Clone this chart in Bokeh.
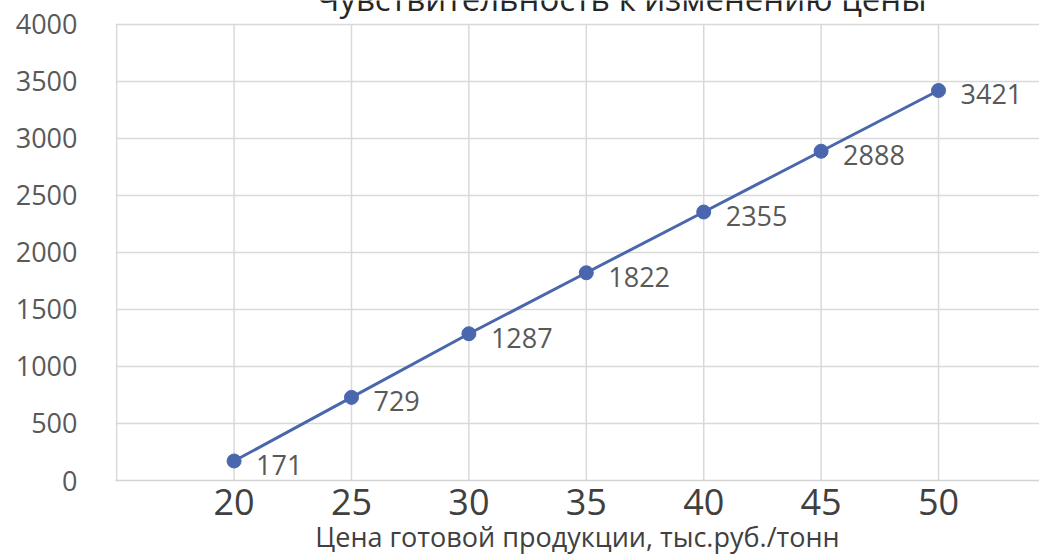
from bokeh.plotting import figure
from bokeh.models import ColumnDataSource, FixedTicker
from bokeh.core.properties import value
from bokeh.embed import file_html
from bokeh.resources import INLINE

prices = [20, 25, 30, 35, 40, 45, 50]
values = [171, 729, 1287, 1822, 2355, 2888, 3421]
y_ticks = [0, 500, 1000, 1500, 2000, 2500, 3000, 3500, 4000]
title_text = "Чувствительность к изменению цены"
x_title = "Цена готовой продукции, тыс.руб./тонн"

FONT = "Open Sans"
BLUE = "#4A66AC"
PX = 4000 / 457.0  # data units per pixel on the y axis
Y_TOP = 4000 + 24 * PX

src = ColumnDataSource(dict(x=prices, y=values, lbl=[str(v) for v in values]))

p = figure(width=1039, height=557, output_backend="svg", toolbar_location=None,
           x_range=(14.95, 54.3), y_range=(0, Y_TOP),
           min_border_left=115, min_border_top=0, min_border_bottom=76, min_border_right=0)
p.outline_line_color = None
p.background_fill_color = "white"
p.border_fill_color = "white"

p.xaxis.ticker = FixedTicker(ticks=prices)
p.yaxis.ticker = FixedTicker(ticks=y_ticks)
p.xgrid.ticker = FixedTicker(ticks=prices)
p.ygrid.ticker = FixedTicker(ticks=y_ticks)
p.xgrid.grid_line_color = None
p.ygrid.grid_line_color = "#d9d9d9"
p.ygrid.grid_line_width = 1.5

for ax in (p.xaxis, p.yaxis):
    ax.major_tick_line_color = None
    ax.minor_tick_line_color = None
    ax.major_label_text_font = FONT
p.xaxis.axis_line_color = "#d4d4d4"
p.xaxis.axis_line_width = 1.5
p.yaxis.axis_line_color = None

# vertical grid lines and left axis line only up to 4000
p.segment(x0=[15] + prices, y0=0, x1=[15] + prices, y1=4000,
          line_color="#d9d9d9", line_width=1.5)

p.yaxis.major_label_text_font_size = "27px"
p.yaxis.major_label_text_color = "#595959"
p.yaxis.major_label_standoff = 32
p.xaxis.major_label_text_font_size = "36px"
p.xaxis.major_label_text_color = "#404040"
p.xaxis.major_label_standoff = 2
p.xaxis.axis_label = x_title
p.xaxis.axis_label_text_font = FONT
p.xaxis.axis_label_text_font_style = "normal"
p.xaxis.axis_label_text_font_size = "27px"
p.xaxis.axis_label_text_color = "#404040"
p.xaxis.axis_label_standoff = 0

p.line("x", "y", source=src, line_color=BLUE, line_width=3)
p.scatter("x", "y", source=src, size=14, fill_color=BLUE, line_color=BLUE)
p.text("x", "y", text="lbl", source=src, x_offset=22, y_offset=4,
       text_align="left", text_baseline="middle", text_font=value(FONT),
       text_font_size="27px", text_color="#595959")

# title, partially cut by the top edge as in the reference
p.text(x=[36.5], y=[4000 + 26 * PX], text=[title_text], text_align="center",
       text_baseline="alphabetic", text_font=value(FONT), text_font_size="33px",
       text_color="#262626")

open("out.html", "w").write(file_html(p, INLINE))
